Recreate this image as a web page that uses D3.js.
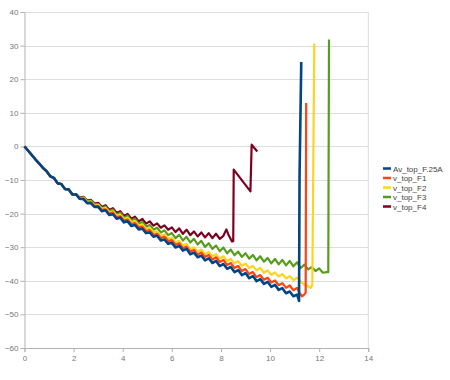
<!DOCTYPE html>
<html>
<head>
<meta charset="utf-8">
<script src="https://cdn.jsdelivr.net/npm/d3@7"></script>
<style>
  body { margin: 0; background: #fff; }
  svg { font-family: "Liberation Sans", Arial, sans-serif; }
</style>
</head>
<body>
<script>
// sample positions shared by all series (x axis)
var xs = [0, 0.15, 0.3, 0.45, 0.6, 0.75, 0.9, 1.05, 1.2, 1.35, 1.5, 1.65, 1.8, 1.95,
  2.1, 2.25, 2.4, 2.55, 2.7, 2.85, 3.0, 3.15, 3.3, 3.45, 3.6, 3.75, 3.9, 4.05, 4.2, 4.35,
  4.5, 4.65, 4.8, 4.95, 5.1, 5.25, 5.4, 5.55, 5.7, 5.85, 6.0, 6.15, 6.3, 6.45, 6.6, 6.75,
  6.9, 7.05, 7.2, 7.35, 7.5, 7.65, 7.8, 7.95, 8.1, 8.25, 8.4, 8.55, 8.7, 8.85, 9.0, 9.15,
  9.3, 9.45, 9.6, 9.75, 9.9, 10.05, 10.2, 10.35, 10.5, 10.65, 10.8, 10.95, 11.1];

var startY = [0, -1.3, -2.6, -3.9, -5.1, -6.4, -7.4, -8.9, -9.4, -11.0, -11.2, -12.7, -12.8, -14.3];

var blueY = startY.concat([-14.3, -15.6, -15.7, -16.9, -16.9, -18.0, -18.0, -19.3, -19.0, -20.4,
  -20.2, -21.5, -21.2, -22.6, -22.3, -23.7, -23.4, -24.7, -24.5, -25.8, -25.6, -26.9, -26.6,
  -28.0, -27.7, -29.0, -28.7, -30.1, -29.6, -31.0, -30.5, -32.1, -31.6, -33.0, -32.5, -33.9,
  -33.3, -34.7, -34.1, -35.6, -35.0, -36.4, -35.9, -37.4, -36.8, -38.3, -37.7, -39.2, -38.6,
  -40.1, -39.5, -40.9, -40.3, -41.8, -41.2, -42.7, -42.2, -43.7, -43.2, -44.6, -44.1]);
var blueTail = [[11.18, -46], [11.2, -9], [11.27, 25.1]];

var orangeY = startY.concat([-14.3, -15.5, -15.5, -16.7, -16.6, -17.8, -17.7, -18.9, -18.7, -20.0,
  -19.7, -21.1, -20.8, -22.1, -21.8, -23.1, -22.8, -24.1, -23.9, -25.2, -24.9, -26.3, -26.0,
  -27.3, -26.9, -28.2, -27.9, -29.3, -28.8, -30.3, -29.8, -31.3, -30.8, -32.2, -31.6, -32.9,
  -32.3, -33.7, -33.0, -34.4, -33.8, -35.3, -34.7, -36.2, -35.6, -37.1, -36.5, -38.0, -37.4,
  -38.9, -38.3, -39.7, -39.1, -40.5, -39.9, -41.3, -40.7, -42.1, -41.4, -42.8, -42.1]);
var orangeTail = [[11.2, -43.6], [11.3, -44.6], [11.38, -44.2], [11.45, -43.5], [11.47, 12.9]];

var yellowY = startY.concat([-14.3, -15.4, -15.3, -16.5, -16.4, -17.5, -17.4, -18.6, -18.3, -19.6,
  -19.3, -20.6, -20.3, -21.6, -21.2, -22.5, -22.2, -23.5, -23.2, -24.5, -24.2, -25.5, -25.3,
  -26.6, -26.2, -27.5, -27.2, -28.6, -28.1, -29.5, -29.0, -30.5, -30.0, -31.4, -30.7, -32.1,
  -31.4, -32.7, -32.1, -33.4, -32.7, -34.1, -33.5, -34.8, -34.2, -35.5, -34.9, -36.2, -35.6,
  -36.9, -36.2, -37.6, -36.9, -38.2, -37.5, -38.7, -38.0, -39.3, -38.6, -39.8, -39.1]);
var yellowTail = [[11.25, -40.2], [11.4, -41.2], [11.55, -41.6], [11.65, -42.1], [11.72, -41.2], [11.8, 30.6]];

var greenY = startY.concat([-14.2, -15.4, -15.2, -16.4, -16.1, -17.3, -17.1, -18.4, -17.9, -19.3,
  -18.8, -20.3, -19.7, -21.2, -20.6, -22.1, -21.5, -23.0, -22.5, -23.9, -23.4, -24.8, -24.2,
  -25.6, -25.0, -26.4, -25.8, -27.3, -26.3, -28.0, -26.9, -28.6, -27.5, -29.2, -28.1, -29.9,
  -28.8, -30.5, -29.5, -31.2, -30.1, -31.8, -30.7, -32.4, -31.3, -32.9, -31.8, -33.4, -32.3,
  -33.9, -32.7, -34.3, -33.2, -34.8, -33.5, -35.1, -33.8, -35.4, -34.1, -35.7, -34.5]);
var greenTail = [[11.25, -36.2], [11.4, -35.2], [11.55, -36.6], [11.7, -35.9], [11.85, -37.1],
  [12.0, -36.3], [12.15, -37.6], [12.3, -37.4], [12.37, -37.4], [12.4, 31.8]];

var maroonY = startY.concat([-14.2, -15.2, -15.0, -16.1, -15.9, -17.0, -16.8, -18.0, -17.5, -18.9,
  -18.4, -19.8, -19.3, -20.7, -20.1, -21.5, -20.9, -22.3, -21.6, -23.0, -22.3, -23.6, -22.9,
  -24.2, -23.5, -24.8, -24.1, -25.5, -24.4, -26.0, -24.8, -26.4, -25.3, -26.8, -25.6, -27.1,
  -25.8, -27.3, -26.0, -27.5]);
var maroonTail = [[8.1, -26.6], [8.22, -24.7], [8.3, -26.2], [8.45, -28.3], [8.5, -28.2],
  [8.52, -6.9], [9.2, -13.4], [9.25, 0.5], [9.48, -1.5]];

var seriesNames = ["Av_top_F.25A", "v_top_F1", "v_top_F2", "v_top_F3", "v_top_F4"];
var seriesColors = ["#004586", "#ff420e", "#ffd320", "#579d1c", "#7e0021"];
var seriesY = [blueY, orangeY, yellowY, greenY, maroonY];
var seriesTail = [blueTail, orangeTail, yellowTail, greenTail, maroonTail];

var xTicks = [0, 2, 4, 6, 8, 10, 12, 14];
var yTicks = [-60, -50, -40, -30, -20, -10, 0, 10, 20, 30, 40];

var svgWidth = 450;
var svgHeight = 380;
var plot = { left: 24.5, right: 368.3, top: 12, bottom: 348 };

var svg = d3.select("body")
  .append("svg")
  .attr("width", svgWidth)
  .attr("height", svgHeight);

var xScale = d3.scaleLinear().domain([0, 14]).range([plot.left, plot.right]);
var yScale = d3.scaleLinear().domain([-60, 40]).range([plot.bottom, plot.top]);

// horizontal grid
svg.append("g")
  .selectAll("line")
  .data(yTicks)
  .enter()
  .append("line")
  .attr("x1", plot.left)
  .attr("x2", plot.right)
  .attr("y1", d => Math.round(yScale(d)) + 0.5)
  .attr("y2", d => Math.round(yScale(d)) + 0.5)
  .attr("stroke", "#dddddd");

// right frame
svg.append("line")
  .attr("x1", plot.right).attr("x2", plot.right)
  .attr("y1", plot.top).attr("y2", plot.bottom)
  .attr("stroke", "#dddddd");

// axes
var leftAxis = d3.axisLeft(yScale).tickValues(yTicks).tickSize(4).tickPadding(2);
var bottomAxis = d3.axisBottom(xScale).tickValues(xTicks).tickSize(4).tickPadding(3);

var yAxisG = svg.append("g")
  .attr("transform", `translate(${plot.left}, 0)`)
  .call(leftAxis);
var xAxisG = svg.append("g")
  .attr("transform", `translate(0, ${plot.bottom})`)
  .call(bottomAxis);

[yAxisG, xAxisG].forEach(function(g) {
  g.select(".domain").attr("stroke", "#b3b3b3");
  g.selectAll(".tick line").attr("stroke", "#b3b3b3");
  g.selectAll(".tick text")
    .attr("fill", "#777777")
    .attr("font-size", "8px")
    .attr("font-family", "Liberation Sans, Arial, sans-serif");
});

// lines, drawn last series first so the first series sits on top
var line = d3.line()
  .x(d => xScale(d[0]))
  .y(d => yScale(d[1]));

var lineGroup = svg.append("g");
d3.range(seriesNames.length).reverse().forEach(function(s) {
  var pts = seriesY[s].map((y, i) => [xs[i], y]).concat(seriesTail[s]);
  lineGroup.append("path")
    .datum(pts)
    .attr("d", line)
    .attr("fill", "none")
    .attr("stroke", seriesColors[s])
    .attr("stroke-width", s === 0 ? 2.6 : 2.2)
    .attr("stroke-linejoin", "round");
});

// legend
var legend = svg.append("g")
  .attr("transform", "translate(383, 168.5)");

var items = legend.selectAll("g")
  .data(seriesNames)
  .enter()
  .append("g")
  .attr("transform", (d, i) => `translate(0, ${i * 9.5})`);

items.append("line")
  .attr("x1", 0).attr("x2", 8)
  .attr("y1", 0).attr("y2", 0)
  .attr("stroke", (d, i) => seriesColors[i])
  .attr("stroke-width", 2.5);

items.append("text")
  .attr("x", 10)
  .attr("y", 3)
  .attr("font-size", "8px")
  .attr("fill", "#444")
  .text(d => d);
</script>
</body>
</html>
